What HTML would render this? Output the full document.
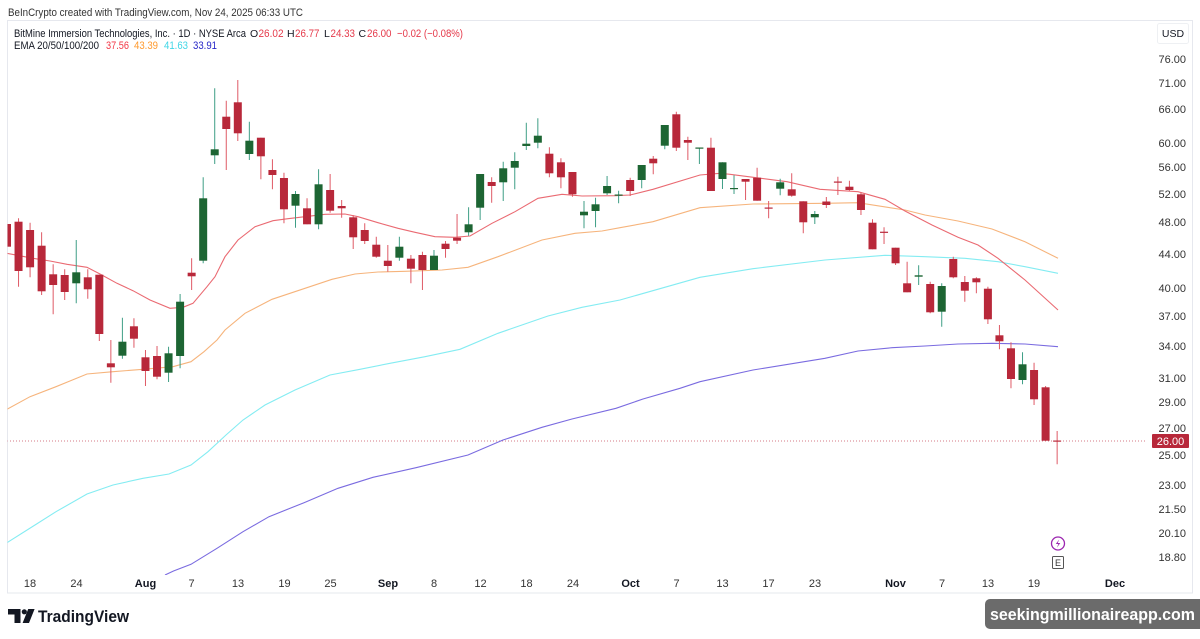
<!DOCTYPE html>
<html>
<head>
<meta charset="utf-8">
<style>
html,body{margin:0;padding:0;background:#fff;}
svg{display:block;}
text{font-family:"Liberation Sans",Arial,sans-serif;}
</style>
</head>
<body>
<svg width="1200" height="639" viewBox="0 0 1200 639" xmlns="http://www.w3.org/2000/svg">
<rect x="0" y="0" width="1200" height="639" fill="#ffffff"/>
<!-- header -->
<text x="8" y="16" font-size="11" fill="#333" textLength="295" lengthAdjust="spacingAndGlyphs">BeInCrypto created with TradingView.com, Nov 24, 2025 06:33 UTC</text>
<!-- frame -->
<rect x="7.5" y="20.5" width="1185" height="572.5" fill="none" stroke="#e6e8ee" stroke-width="1"/>
<!-- legend -->
<text x="14" y="37" font-size="11" fill="#131722" textLength="232" lengthAdjust="spacingAndGlyphs">BitMine Immersion Technologies, Inc. · 1D · NYSE Arca</text>
<text x="250" y="37" font-size="10.5" fill="#131722">O</text>
<text x="258.5" y="37" font-size="11" fill="#e5394a" textLength="25" lengthAdjust="spacingAndGlyphs">26.02</text>
<text x="287" y="37" font-size="10.5" fill="#131722">H</text>
<text x="295" y="37" font-size="11" fill="#e5394a" textLength="24.5" lengthAdjust="spacingAndGlyphs">26.77</text>
<text x="324" y="37" font-size="10.5" fill="#131722">L</text>
<text x="330.5" y="37" font-size="11" fill="#e5394a" textLength="24.5" lengthAdjust="spacingAndGlyphs">24.33</text>
<text x="358.5" y="37" font-size="10.5" fill="#131722">C</text>
<text x="367" y="37" font-size="11" fill="#e5394a" textLength="24.5" lengthAdjust="spacingAndGlyphs">26.00</text>
<text x="397" y="37" font-size="11" fill="#e5394a" textLength="66" lengthAdjust="spacingAndGlyphs">−0.02 (−0.08%)</text>
<text x="14" y="49" font-size="11" fill="#131722" textLength="85" lengthAdjust="spacingAndGlyphs">EMA 20/50/100/200</text>
<text x="106" y="49" font-size="11" fill="#f23645" textLength="23" lengthAdjust="spacingAndGlyphs">37.56</text>
<text x="134" y="49" font-size="11" fill="#ff9a2e" textLength="24" lengthAdjust="spacingAndGlyphs">43.39</text>
<text x="164" y="49" font-size="11" fill="#3fd6e6" textLength="24" lengthAdjust="spacingAndGlyphs">41.63</text>
<text x="193" y="49" font-size="11" fill="#2626c8" textLength="24" lengthAdjust="spacingAndGlyphs">33.91</text>

<!-- USD box -->
<rect x="1157.5" y="23.5" width="31" height="20" rx="2" fill="#fff" stroke="#eef0f3"/>
<text x="1173" y="37" font-size="10.5" fill="#131722" text-anchor="middle">USD</text>

<!-- price axis labels -->
<g font-size="11" fill="#333" text-anchor="end">
<text x="1186" y="63">76.00</text>
<text x="1186" y="87">71.00</text>
<text x="1186" y="113">66.00</text>
<text x="1186" y="147">60.00</text>
<text x="1186" y="171">56.00</text>
<text x="1186" y="198">52.00</text>
<text x="1186" y="226">48.00</text>
<text x="1186" y="258">44.00</text>
<text x="1186" y="292">40.00</text>
<text x="1186" y="320">37.00</text>
<text x="1186" y="350">34.00</text>
<text x="1186" y="382">31.00</text>
<text x="1186" y="406">29.00</text>
<text x="1186" y="432">27.00</text>
<text x="1186" y="459">25.00</text>
<text x="1186" y="489">23.00</text>
<text x="1186" y="513">21.50</text>
<text x="1186" y="537">20.10</text>
<text x="1186" y="561">18.80</text>
</g>

<!-- time axis labels -->
<g font-size="11" fill="#333" text-anchor="middle">
<text x="30" y="587">18</text>
<text x="76.5" y="587">24</text>
<text x="145.5" y="587" font-weight="bold" fill="#131722">Aug</text>
<text x="191.5" y="587">7</text>
<text x="238" y="587">13</text>
<text x="284.5" y="587">19</text>
<text x="330.5" y="587">25</text>
<text x="388" y="587" font-weight="bold" fill="#131722">Sep</text>
<text x="434" y="587">8</text>
<text x="480.5" y="587">12</text>
<text x="526.5" y="587">18</text>
<text x="573" y="587">24</text>
<text x="630.5" y="587" font-weight="bold" fill="#131722">Oct</text>
<text x="676.5" y="587">7</text>
<text x="722.5" y="587">13</text>
<text x="768.5" y="587">17</text>
<text x="815" y="587">23</text>
<text x="895.5" y="587" font-weight="bold" fill="#131722">Nov</text>
<text x="942" y="587">7</text>
<text x="988" y="587">13</text>
<text x="1034" y="587">19</text>
<text x="1115" y="587" font-weight="bold" fill="#131722">Dec</text>
</g>

<defs>
<clipPath id="plot"><rect x="7.5" y="21" width="1138" height="554"/></clipPath>
</defs>

<g clip-path="url(#plot)">
<!-- last price dotted line -->
<line x1="7" y1="441" x2="1152" y2="441" stroke="#d47a84" stroke-width="1" stroke-dasharray="1 2"/>

<!-- EMA lines -->
<polyline fill="none" stroke="#7a6be0" stroke-width="1.1" points="165,575 173.5,571 191,564.3 217,548.3 243,531.7 269,516.7 304,502.7 338,488.3 373,477.3 416,467.7 468,455 503,440 542,427.3 572,419 616,408.3 643,399 680,388.3 700,381.7 753,370 825,358.3 858,351 892,347.7 925,346 958,344 992,343.3 1025,344 1058,346.7"/>
<polyline fill="none" stroke="#84ecf2" stroke-width="1.1" points="7,542.7 35,525 56,511.7 87,494 113,485 143,478.3 169,474 191,465 208,451.7 226,435 243,420 265,405 295,390 330,375 360,369.3 390,363.3 425,356.7 460,349.3 498,333.3 548,316 582,307.3 620,300 700,277.3 753,268.7 825,260 885,255.3 925,256.7 965,258.3 998,261.7 1025,266.7 1058,273.3"/>
<polyline fill="none" stroke="#f6b47c" stroke-width="1.1" points="7,409.3 30,396.7 56,386.7 87,374 113,371.7 143,369.3 173,366.7 191,361.7 204,351.7 217,340 225,330 245,313.3 272,299.3 305,288.3 332,279.3 355,274 378,272 405,271.3 442,270 468,267.3 498,256.7 542,240 575,233.3 602,231 620,227.7 653,221.7 700,207.7 753,204 825,203.3 858,202.7 905,210 925,215 958,221 992,229 1025,241.7 1058,258.3"/>
<polyline fill="none" stroke="#ea6a72" stroke-width="1.1" points="7,253.3 33,258.3 50,261 67,264.3 87,267.3 100,274 117,283.3 133,290.7 150,300 170,308.3 183,307.3 193,303.3 207,286.7 215,276.7 225,256.7 238,240 255,226.7 273,220.7 288,218.7 305,216.7 325,214.3 345,214 358,216.7 378,222.7 398,228.3 415,232.3 435,236.7 455,237.3 470,236 492,223.3 515,211.7 538,198.3 562,194.3 582,196 615,195.7 630,195 653,189.3 700,175 720,173.3 730,174.3 787,181.7 820,189.3 858,191.7 885,199.3 905,211 932,225 958,237.3 978,245 998,258.3 1025,280 1058,310"/>

<!-- red wicks -->
<path fill="none" stroke="#df5a66" stroke-width="1" d="M18.54 218.3V286.7M30.08 222.7V277.3M41.62 232.3V295M53.16 264.3V314.3M64.7 269.3V300M87.78 269.3V298.7M99.32 274.7V341M110.86 340V382.7M133.94 318.3V347.7M145.48 350V386M157.02 346V379.3M191.64 258.3V290M226.26 100.7V170M237.8 80V141M260.88 137.7V179.3M272.42 159.3V189.3M283.96 172.7V223.3M307.04 198.3V224.3M330.12 174V212.7M341.66 200V217.7M353.2 215.3V249M364.74 223.3V244M376.28 236.7V257.7M387.82 245V271.7M410.9 255V283.3M422.44 251.7V290M445.52 241V257.7M457.06 214V244M491.68 177.3V202.7M549.38 147.3V177.3M560.92 158.3V188.3M572.46 172V196.7M630.16 177.7V196M653.24 156V174.3M676.32 111.7V151M687.86 136.7V160M710.94 137.7V191M745.56 179V200M757.1 167.7V200.7M768.64 201V218.3M791.72 173.3V196.7M803.26 201.3V233.3M826.34 197V208M837.88 176.7V195M849.42 180.7V190.7M860.96 192.7V215M872.5 219.3V249.3M884.04 227.3V244M895.58 247.7V265M907.12 261.7V292.3M930.2 281.7V313.3M953.28 256.7V278.3M964.82 276V301.7M976.36 277.3V293.3M987.9 286.7V324M999.44 325V349.3M1010.98 342.3V388.3M1034.06 362.7V405M1045.6 386V440.7M1057.14 431V464.3"/>
<!-- green wicks -->
<path fill="none" stroke="#3f9e86" stroke-width="1" d="M76.24 240V303.3M122.4 317.7V358.7M168.56 346.7V382M180.1 294V368.3M203.18 177.3V263.3M214.72 88.3V164M249.34 121.7V160M295.5 191V227.7M318.58 169.3V229.3M399.36 236.7V260.7M433.98 250V270M468.6 207.3V235.7M480.14 174V220M503.22 161.7V201M514.76 152.3V189.3M526.3 122.7V150M537.84 118.3V148.3M584 201V228.3M595.54 197.7V227.3M607.08 176V195M618.62 190.7V203.3M641.7 165V188.3M664.78 125V149.3M699.4 147.5V164M722.48 162.3V189M734.02 175.3V194M780.18 178.7V195.3M814.8 211V224M918.66 265.3V285M941.74 283.3V326.7M1022.52 352.3V384.3"/>

<!-- red bodies -->
<g fill="#b8283a">
<rect x="3" y="224" width="8" height="22.7"/>
<rect x="14.54" y="221.7" width="8" height="49.3"/>
<rect x="26.08" y="230" width="8" height="37.3"/>
<rect x="37.62" y="245.7" width="8" height="45.6"/>
<rect x="49.16" y="274.3" width="8" height="10.7"/>
<rect x="60.7" y="275" width="8" height="17"/>
<rect x="83.78" y="277.3" width="8" height="12"/>
<rect x="95.32" y="274.7" width="8" height="59.3"/>
<rect x="106.86" y="363.3" width="8" height="4"/>
<rect x="129.94" y="326.3" width="8" height="12.4"/>
<rect x="141.48" y="357.3" width="8" height="13.7"/>
<rect x="153.02" y="356" width="8" height="20.7"/>
<rect x="187.64" y="272.7" width="8" height="3.6"/>
<rect x="222.26" y="116.7" width="8" height="12.3"/>
<rect x="233.8" y="102.3" width="8" height="31"/>
<rect x="256.88" y="137.7" width="8" height="18.6"/>
<rect x="268.42" y="170" width="8" height="5"/>
<rect x="279.96" y="178" width="8" height="31.3"/>
<rect x="303.04" y="208.3" width="8" height="16"/>
<rect x="326.12" y="190" width="8" height="20.7"/>
<rect x="337.66" y="206" width="8" height="2.3"/>
<rect x="349.2" y="217.3" width="8" height="20"/>
<rect x="360.74" y="230" width="8" height="11"/>
<rect x="372.28" y="244.7" width="8" height="12"/>
<rect x="383.82" y="260.7" width="8" height="5.3"/>
<rect x="406.9" y="258.7" width="8" height="10"/>
<rect x="418.44" y="255" width="8" height="15"/>
<rect x="441.52" y="243.7" width="8" height="5.3"/>
<rect x="453.06" y="237.7" width="8" height="3"/>
<rect x="487.68" y="182" width="8" height="4"/>
<rect x="545.38" y="153.7" width="8" height="19.6"/>
<rect x="556.92" y="162.3" width="8" height="15"/>
<rect x="568.46" y="172" width="8" height="22.3"/>
<rect x="626.16" y="180" width="8" height="11"/>
<rect x="649.24" y="158.7" width="8" height="4.6"/>
<rect x="672.32" y="114.3" width="8" height="33.4"/>
<rect x="683.86" y="140" width="8" height="2.7"/>
<rect x="706.94" y="147.7" width="8" height="43.3"/>
<rect x="741.56" y="179" width="8" height="2.7"/>
<rect x="753.1" y="177.7" width="8" height="23"/>
<rect x="764.64" y="207.5" width="8" height="1.2"/>
<rect x="787.72" y="189.3" width="8" height="6.4"/>
<rect x="799.26" y="201.3" width="8" height="21"/>
<rect x="822.34" y="201.5" width="8" height="3.5"/>
<rect x="833.88" y="181.5" width="8" height="1.2"/>
<rect x="845.42" y="186.7" width="8" height="3.3"/>
<rect x="856.96" y="194.3" width="8" height="15.7"/>
<rect x="868.5" y="222.7" width="8" height="26.6"/>
<rect x="880.04" y="231.7" width="8" height="1.2"/>
<rect x="891.58" y="247.7" width="8" height="15.6"/>
<rect x="903.12" y="283.3" width="8" height="9"/>
<rect x="926.2" y="284" width="8" height="28.3"/>
<rect x="949.28" y="259" width="8" height="18.3"/>
<rect x="960.82" y="282" width="8" height="8.7"/>
<rect x="972.36" y="278.3" width="8" height="4"/>
<rect x="983.9" y="288.7" width="8" height="30.6"/>
<rect x="995.44" y="335.3" width="8" height="6"/>
<rect x="1006.98" y="348.3" width="8" height="30.7"/>
<rect x="1030.06" y="370" width="8" height="29.3"/>
<rect x="1041.6" y="387.3" width="8" height="53.4"/>
<rect x="1053.14" y="440.5" width="8" height="1.2"/>
</g>
<!-- green bodies -->
<g fill="#1d6533">
<rect x="72.24" y="272.3" width="8" height="11"/>
<rect x="118.4" y="341.7" width="8" height="14"/>
<rect x="164.56" y="353.3" width="8" height="19.4"/>
<rect x="176.1" y="301.7" width="8" height="54.3"/>
<rect x="199.18" y="198.3" width="8" height="62.4"/>
<rect x="210.72" y="149.3" width="8" height="6"/>
<rect x="245.34" y="140.7" width="8" height="13.3"/>
<rect x="291.5" y="194" width="8" height="11.7"/>
<rect x="314.58" y="184.3" width="8" height="40"/>
<rect x="395.36" y="246.7" width="8" height="11"/>
<rect x="429.98" y="255.7" width="8" height="14.3"/>
<rect x="464.6" y="224.3" width="8" height="8"/>
<rect x="476.14" y="174" width="8" height="33.7"/>
<rect x="499.22" y="168.3" width="8" height="14"/>
<rect x="510.76" y="161" width="8" height="6.7"/>
<rect x="522.3" y="143.7" width="8" height="2.3"/>
<rect x="533.84" y="135.7" width="8" height="7"/>
<rect x="580" y="211.7" width="8" height="3.6"/>
<rect x="591.54" y="204.3" width="8" height="6.7"/>
<rect x="603.08" y="186" width="8" height="7.3"/>
<rect x="614.62" y="194.5" width="8" height="1.2"/>
<rect x="637.7" y="165" width="8" height="15"/>
<rect x="660.78" y="125" width="8" height="20.7"/>
<rect x="695.4" y="147.5" width="8" height="1.2"/>
<rect x="718.48" y="162.3" width="8" height="16.7"/>
<rect x="730.02" y="188" width="8" height="1.2"/>
<rect x="776.18" y="182.3" width="8" height="6.4"/>
<rect x="810.8" y="214" width="8" height="3.3"/>
<rect x="914.66" y="275.3" width="8" height="1.4"/>
<rect x="937.74" y="286" width="8" height="25.7"/>
<rect x="1018.52" y="364.3" width="8" height="15.7"/>
</g>

<!-- event icons -->
<circle cx="1058" cy="543.5" r="6.5" fill="#fff" stroke="#9c27b0" stroke-width="1.3"/>
<path d="M1059.3 539.3 L1055.8 544 L1058.4 544 L1056.8 547.8 L1060.3 543 L1057.7 543 Z" fill="#9c27b0"/>
<rect x="1052.5" y="556.5" width="11" height="12" rx="1" fill="#fff" stroke="#555" stroke-width="1"/>
<text x="1058" y="566" font-size="9" fill="#333" text-anchor="middle">E</text>
</g>

<!-- last price label -->
<rect x="1152" y="434" width="37" height="14" rx="1" fill="#b8283a"/>
<text x="1170.5" y="445" font-size="11" fill="#fff" text-anchor="middle">26.00</text>

<!-- TradingView logo -->
<path d="M8 609 H20.5 V623 H14.5 V614.5 H8 Z" fill="#131722"/>
<circle cx="24.3" cy="611.8" r="2.6" fill="#131722"/>
<path d="M28.2 609 H34.6 L29 623 H22.6 Z" fill="#131722"/>
<text x="38" y="622" font-size="17" font-weight="bold" fill="#131722" textLength="91" lengthAdjust="spacingAndGlyphs">TradingView</text>

<!-- watermark -->
<rect x="985" y="599" width="222" height="30" rx="5" fill="#6b6b6b"/>
<text x="990" y="620" font-size="17" font-weight="bold" fill="#ffffff" textLength="205" lengthAdjust="spacingAndGlyphs">seekingmillionaireapp.com</text>
</svg>
</body>
</html>
